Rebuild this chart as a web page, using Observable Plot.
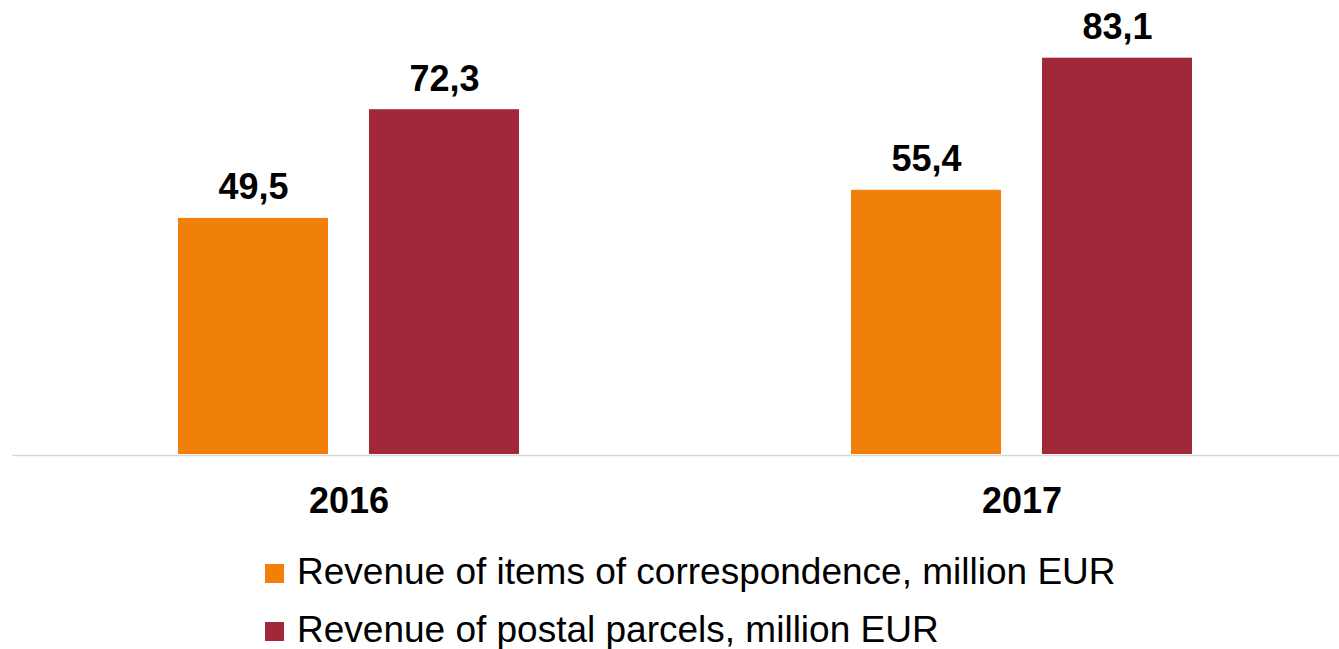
<!DOCTYPE html>
<html>
<head>
<meta charset="utf-8">
<script src="https://cdn.jsdelivr.net/npm/d3@7"></script>
<script src="https://cdn.jsdelivr.net/npm/@observablehq/plot@0.6"></script>
<style>
  html, body { margin: 0; padding: 0; background: white; }
  body { width: 1339px; height: 649px; overflow: hidden; font-family: "Liberation Sans", Arial, sans-serif; }
  #legend { margin-top: 16px; padding-left: 265px; }
  .row { display: flex; align-items: center; height: 34px; line-height: 34px; margin-bottom: 24px; font-size: 37px; color: #000; white-space: nowrap; }
  .row:last-child { margin-bottom: 0; }
  .row .lbl { position: relative; top: -1px; }
  .sw { width: 19px; height: 19px; margin-right: 13px; flex: none; }
</style>
</head>
<body>
<div id="chart"></div>
<div id="legend"></div>
<script>
const years = ["2016", "2017"];
const seriesNames = [
  "Revenue of items of correspondence, million EUR",
  "Revenue of postal parcels, million EUR"
];
const correspondence = [49.5, 55.4];
const parcels = [72.3, 83.1];
const colors = ["#F0800A", "#A12838"];

const data = [];
years.forEach((y, i) => {
  data.push({year: y, series: seriesNames[0], value: correspondence[i]});
  data.push({year: y, series: seriesNames[1], value: parcels[i]});
});

const fmt = v => v.toFixed(1).replace(".", ",");

const chart = Plot.plot({
  width: 1339,
  height: 540,
  marginTop: 0,
  marginBottom: 86,
  marginLeft: 11,
  marginRight: -19,
  style: {fontFamily: "'Liberation Sans', Arial, sans-serif", background: "white"},
  fx: {domain: years, padding: 0, label: null, axis: null},
  x: {domain: seriesNames, paddingInner: 0.2135, paddingOuter: 0.863, axis: null},
  y: {domain: [0, 95.2], axis: null},
  color: {domain: seriesNames, range: colors},
  marks: [
    Plot.barY(data, {fx: "year", x: "series", y: "value", fill: "series"}),
    Plot.ruleY([0], {stroke: "#d9d9d9", strokeWidth: 1.5, dy: 1}),
    Plot.text(data, {
      fx: "year", x: "series", y: "value",
      text: d => fmt(d.value),
      lineAnchor: "bottom", dy: -19,
      fontSize: 36, fontWeight: "bold", fill: "#000"
    }),
    Plot.axisFx({anchor: "bottom", tickSize: 0, tickPadding: 33, fontSize: 36, fontWeight: "bold", fill: "#000", label: null})
  ]
});
document.getElementById("chart").appendChild(chart);

const legend = document.getElementById("legend");
seriesNames.forEach((name, i) => {
  const row = document.createElement("div");
  row.className = "row";
  const sw = document.createElement("span");
  sw.className = "sw";
  sw.style.background = colors[i];
  const t = document.createElement("span");
  t.className = "lbl";
  t.textContent = name;
  row.appendChild(sw);
  row.appendChild(t);
  legend.appendChild(row);
});
</script>
</body>
</html>
